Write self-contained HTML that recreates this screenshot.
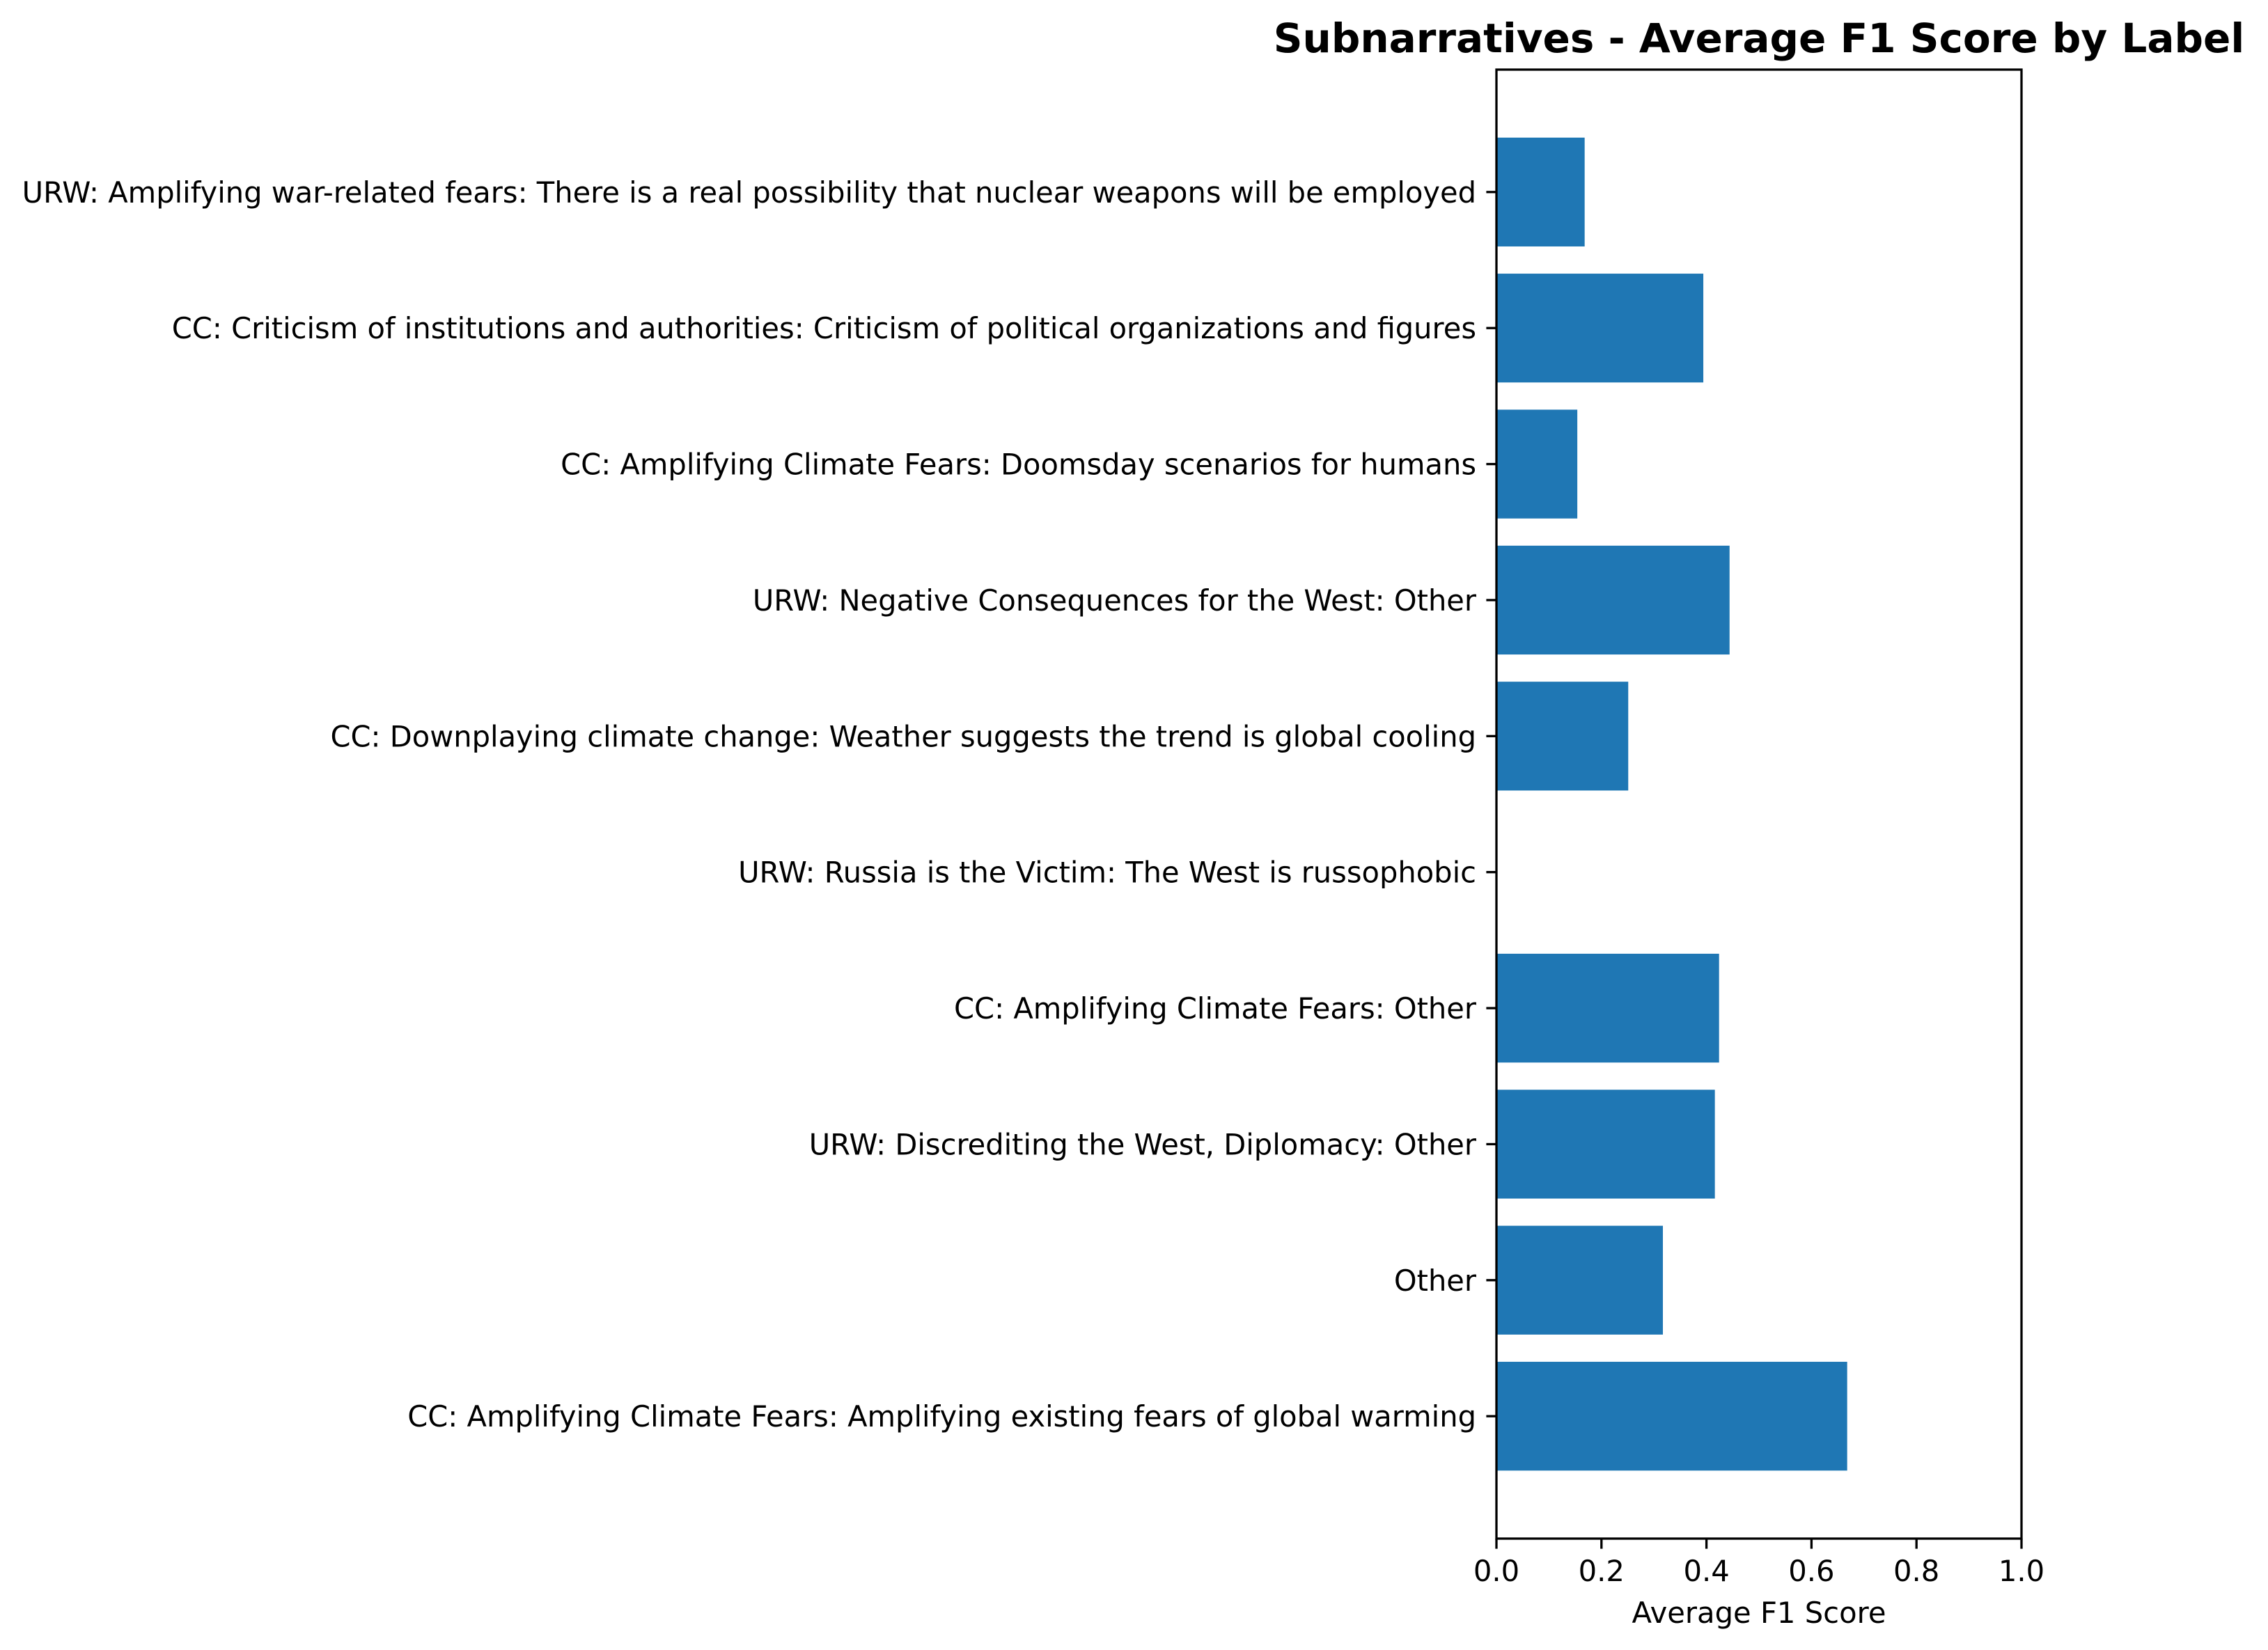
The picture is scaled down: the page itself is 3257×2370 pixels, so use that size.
<!DOCTYPE html>
<html><head><meta charset="utf-8"><style>
html,body{margin:0;padding:0;background:#fff;}
svg{display:block;font-family:"DejaVu Sans","Liberation Sans",sans-serif;}
</style></head><body>
<svg id="chart" width="3257" height="2370" viewBox="0 0 3257 2370" xmlns="http://www.w3.org/2000/svg">
<rect width="3257" height="2370" fill="#fff"/>
<text x="2526" y="75" text-anchor="middle" font-size="58" font-weight="bold">Subnarratives - Average F1 Score by Label</text>
<g id="bars"></g>
<g id="yticks"></g>
<g id="xticks"></g>
<rect x="2149" y="100" width="754" height="2110" fill="none" stroke="#000" stroke-width="3.3"/>
<text x="2526" y="2331" text-anchor="middle" font-size="41.7">Average F1 Score</text>
</svg>
<script>
const categories = [
"CC: Amplifying Climate Fears: Amplifying existing fears of global warming",
"Other",
"URW: Discrediting the West, Diplomacy: Other",
"CC: Amplifying Climate Fears: Other",
"URW: Russia is the Victim: The West is russophobic",
"CC: Downplaying climate change: Weather suggests the trend is global cooling",
"URW: Negative Consequences for the West: Other",
"CC: Amplifying Climate Fears: Doomsday scenarios for humans",
"CC: Criticism of institutions and authorities: Criticism of political organizations and figures",
"URW: Amplifying war-related fears: There is a real possibility that nuclear weapons will be employed"
];
const f1Values = [0.668, 0.317, 0.416, 0.424, 0.0, 0.251, 0.444, 0.154, 0.394, 0.168];
const xTicks = [0, 0.2, 0.4, 0.6, 0.8, 1.0];
const xTickLabels = ["0.0","0.2","0.4","0.6","0.8","1.0"];

const L=2149,R=2903,T=100,B=2210;
const yMin=-0.9, yMax=categories.length-1+0.9;
const xs=v=>L+v*(R-L);
const ys=i=>B-(i-yMin)/(yMax-yMin)*(B-T);
const unit=(B-T)/(yMax-yMin);
const NS="http://www.w3.org/2000/svg";
const gb=document.getElementById('bars'), gy=document.getElementById('yticks'), gx=document.getElementById('xticks');
function mk(tag,attrs,parent){const e=document.createElementNS(NS,tag);for(const k in attrs)e.setAttribute(k,attrs[k]);parent.appendChild(e);return e;}
categories.forEach((c,i)=>{
  const v=f1Values[i];
  const r=mk('rect',{x:L,y:ys(i)-0.4*unit,width:Math.max(0,xs(v)-L),height:0.8*unit,fill:'#1f77b4'},gb);
  
  
  const t=mk('line',{x1:L-14.6,x2:L,y1:ys(i),y2:ys(i),stroke:'#000','stroke-width':3.3},gy);
  
  
  const tx=mk('text',{x:L-29,y:ys(i)+15,'text-anchor':'end','font-size':41.6},gy);
  tx.textContent=c;
  
  
});
xTicks.forEach((v,i)=>{
  const t=mk('line',{x1:xs(v),x2:xs(v),y1:B,y2:B+14.6,stroke:'#000','stroke-width':3.3},gx);
  
  
  const tx=mk('text',{x:xs(v),y:B+61,'text-anchor':'middle','font-size':41.7},gx);
  tx.textContent=xTickLabels[i];
  
  
});
</script>
</body></html>
